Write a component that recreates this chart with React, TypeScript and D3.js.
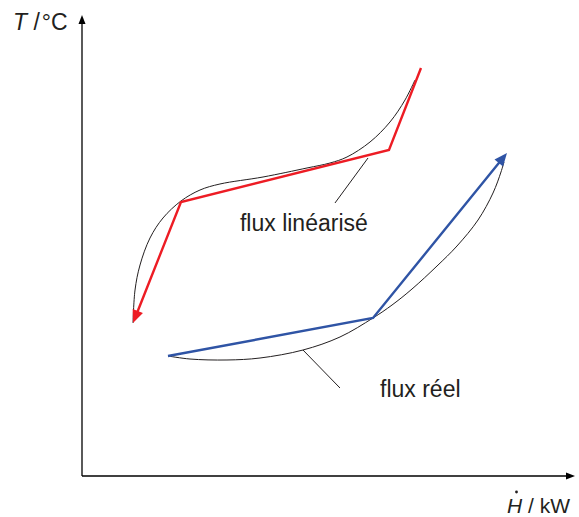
import React from "react";
import * as d3 from "d3";

// data in arbitrary units (H from 0 to 100, T from 0 to 100)
const linearHot: [number, number][] = [
  [69.18, 88.7],
  [62.65, 70.87],
  [20.2, 59.57],
  [10.41, 33.26],
];

const realHot: [number, number][] = [
  [67.96, 86.09],
  [65.92, 81.74],
  [62.86, 76.96],
  [58.78, 72.61],
  [54.08, 69.35],
  [50.61, 68.04],
  [45.92, 66.96],
  [36.94, 65.0],
  [28.16, 63.48],
  [24.08, 62.17],
  [20.2, 59.78],
  [16.53, 56.09],
  [13.88, 51.74],
  [11.84, 45.87],
  [10.82, 40.43],
  [10.41, 33.26],
];

const linearCold: [number, number][] = [
  [17.55, 26.09],
  [59.39, 34.35],
  [86.73, 70.22],
];

const realCold: [number, number][] = [
  [17.55, 26.09],
  [22.04, 25.43],
  [29.59, 25.22],
  [36.33, 25.65],
  [45.1, 27.39],
  [52.65, 30.22],
  [59.39, 34.35],
  [63.27, 37.17],
  [67.35, 40.65],
  [72.45, 45.65],
  [76.53, 50.0],
  [80.82, 55.65],
  [83.88, 61.52],
  [85.51, 66.09],
  [86.12, 68.26],
];

const labels = [
  { text: "flux linéarisé", at: [32.24, 53.26], leader: [[58.37, 69.13], [51.63, 59.35]] },
  { text: "flux réel", at: [60.82, 17.17], leader: [[45.1, 27.39], [52.65, 19.13]] },
];

const width = 579;
const height = 517;

function arrowHead(tip: [number, number], from: [number, number], len: number, half: number) {
  const dx = tip[0] - from[0];
  const dy = tip[1] - from[1];
  const d = Math.hypot(dx, dy);
  const ux = dx / d, uy = dy / d;
  const bx = tip[0] - ux * len, by = tip[1] - uy * len;
  const pts = [
    [tip[0], tip[1]],
    [bx - uy * half, by + ux * half],
    [bx + uy * half, by - ux * half],
  ];
  return { points: pts.map((p) => p.join(",")).join(" "), base: [tip[0] - ux * (len - 3), tip[1] - uy * (len - 3)] as [number, number] };
}

export default function App() {
  const x = d3.scaleLinear().domain([0, 100]).range([82, 572]);
  const y = d3.scaleLinear().domain([0, 100]).range([476, 16]);

  const px = (p: [number, number]): [number, number] => [x(p[0]), y(p[1])];

  const straight = d3.line<[number, number]>().x((d) => d[0]).y((d) => d[1]);
  const smooth = d3
    .line<[number, number]>()
    .x((d) => x(d[0]))
    .y((d) => y(d[1]))
    .curve(d3.curveCatmullRom.alpha(0.5));

  const arrowLine = (pts: [number, number][], color: string) => {
    const p = pts.map(px);
    const tip = p[p.length - 1];
    const head = arrowHead(tip, p[p.length - 2], 13, 5.5);
    const body = [...p.slice(0, -1), head.base];
    return (
      <g>
        <path d={straight(body) || ""} fill="none" stroke={color} strokeWidth={2.4} strokeLinejoin="miter" />
        <polygon points={head.points} fill={color} />
      </g>
    );
  };

  const x0 = x(0), y0 = y(0);
  const yTop = 15, xRight = 575;
  const font = "'Liberation Sans', Arial, Helvetica, sans-serif";

  return (
    <svg width={width} height={height} style={{ position: "absolute", left: 0, top: 0 }} fontFamily={font}>
      {/* axes */}
      <line x1={x0} y1={y0} x2={x0} y2={yTop + 7} stroke="#000" strokeWidth={1.3} />
      <polygon points={`${x0},${yTop} ${x0 - 3.5},${yTop + 9} ${x0 + 3.5},${yTop + 9}`} fill="#000" />
      <line x1={x0} y1={y0} x2={xRight - 7} y2={y0} stroke="#000" strokeWidth={1.3} />
      <polygon points={`${xRight},${y0} ${xRight - 9},${y0 - 3.5} ${xRight - 9},${y0 + 3.5}`} fill="#000" />

      <text x={13} y={30} fontSize={23} fill="#231f20">
        <tspan fontStyle="italic">T</tspan> /<tspan dx={2}>°C</tspan>
      </text>
      <text x={507} y={513} fontSize={21} fill="#231f20">
        <tspan fontStyle="italic">H</tspan> / kW
      </text>
      <circle cx={516.5} cy={492} r={1.4} fill="#231f20" />

      {/* real flows */}
      <path d={smooth(realHot) || ""} fill="none" stroke="#231f20" strokeWidth={1} />
      <path d={smooth(realCold) || ""} fill="none" stroke="#231f20" strokeWidth={1} />

      {/* linearised flows */}
      {arrowLine(linearHot, "#ed1c24")}
      {arrowLine(linearCold, "#2f54a5")}

      {labels.map((l) => (
        <g key={l.text}>
          <line
            x1={x(l.leader[0][0])}
            y1={y(l.leader[0][1])}
            x2={x(l.leader[1][0])}
            y2={y(l.leader[1][1])}
            stroke="#231f20"
            strokeWidth={1}
          />
          <text x={x(l.at[0])} y={y(l.at[1])} fontSize={23} fill="#231f20">
            {l.text}
          </text>
        </g>
      ))}
    </svg>
  );
}
